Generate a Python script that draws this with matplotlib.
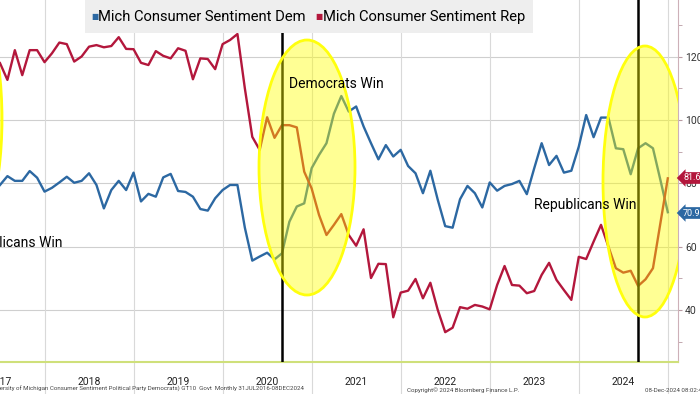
import matplotlib
matplotlib.use("Agg")
import matplotlib.pyplot as plt
from matplotlib.patches import Ellipse, Rectangle
import pandas as pd
import numpy as np

# ---- data (monthly, month-end, Jun 2017 .. Dec 2024) ----
dates = pd.date_range("2017-06-30", periods=91, freq="ME")

dem = [79.5, 82.3, 80.8, 80.8, 83.9, 81.8, 77.4, 78.6, 80.3, 82.1,
       80.2, 80.8, 83.2, 79.5, 72.1, 77.9, 80.8, 77.9, 83.4, 74.3,
       76.7, 75.8, 81.9, 83.0, 77.6, 77.3, 75.8, 71.9, 71.4, 75.3,
       77.9, 79.5, 79.5, 66.0, 55.6, 56.9, 58.1, 56.0, 57.9, 67.9,
       72.7, 73.7, 84.8, 89.0, 92.7, 102.0, 107.6, 102.7, 104.3, 98.0,
       92.7, 87.6, 92.1, 88.5, 90.6, 85.5, 83.2, 76.9, 84.0, 74.8,
       66.5, 66.0, 75.0, 79.2, 76.9, 72.4, 80.3, 77.7, 79.2, 79.8,
       80.8, 76.6, 84.8, 92.7, 85.8, 88.7, 83.4, 84.0, 91.6, 101.6,
       94.6, 100.8, 100.8, 91.1, 90.8, 82.9, 91.1, 92.7, 91.1, 81.1,
       70.9]

rep = [118.0, 112.7, 122.1, 114.2, 122.1, 122.1, 118.3, 121.1, 124.5, 124.0,
       118.5, 120.1, 123.2, 123.7, 123.0, 123.4, 126.2, 122.5, 122.4, 118.1,
       117.4, 121.8, 120.3, 119.5, 122.7, 121.9, 112.9, 119.5, 119.3, 116.1,
       124.0, 125.3, 127.2, 110.0, 94.7, 90.6, 100.9, 94.4, 98.4, 98.4,
       97.7, 83.7, 78.4, 70.0, 63.7, 66.9, 70.3, 63.7, 60.3, 65.5,
       50.1, 54.6, 54.5, 37.7, 45.5, 46.1, 49.8, 43.7, 48.6, 40.0,
       33.0, 34.4, 40.9, 40.4, 41.6, 41.1, 40.2, 47.9, 53.9, 47.9,
       47.7, 45.3, 46.0, 51.1, 54.9, 49.5, 46.3, 43.2, 56.8, 56.1,
       61.6, 66.9, 60.0, 53.2, 51.8, 52.4, 47.6, 49.7, 53.2, 67.4,
       81.6]

years = [2017, 2018, 2019, 2020, 2021, 2022, 2023, 2024]
year_labels = ["2017", "2018", "2019", "2020", "2021", "2022", "2023", "2024"]
yticks = [40, 60, 80, 100, 120]
election_marks = ["2020-08", "2024-08"]
legend_labels = ["Mich Consumer Sentiment Dem", "Mich Consumer Sentiment Rep"]

BLUE = "#2c68a2"
RED = "#b3173c"
plt.rcParams["font.family"] = ["Roboto", "DejaVu Sans"]

t = np.array([d.year + d.month / 12 for d in dates])
ev = [int(s[:4]) + int(s[5:7]) / 12 for s in election_marks]

W, H = 700, 394
fig = plt.figure(figsize=(7, 3.94), dpi=100)
ax = fig.add_axes([0, 32 / H, 678 / W, 362 / H])

x0 = t[0]
pxm = 89.04  # px per year
ax.set_xlim(x0, x0 + 678 / pxm)
ax.set_ylim(40 - 52 / 3.165, 40 + 310 / 3.165)

def px2d(x, y):
    return x0 + x / pxm, 40 + (310 - y) / 3.165

# grid
for v in yticks:
    ax.axhline(v, color="#cfcfcf", lw=0.8, zorder=0)
for y in range(2018, 2026):
    ax.axvline(y, ymin=-0.09, ymax=1, color="#d9d9d9", lw=0.8, zorder=0, clip_on=False)

ax.plot(t, dem, color=BLUE, lw=1.7, zorder=3)
ax.plot(t, rep, color=RED, lw=1.7, zorder=3)

for e in ev:
    ax.axvline(e, color="black", lw=1.8, zorder=4)

# ellipses
for (cx, cy, w, h) in [(307, 167.5, 96, 255), (645, 181.5, 84, 271), (-40, 119, 84, 271)]:
    c = px2d(cx, cy)
    ax.add_patch(Ellipse(c, w / pxm, h / 3.165, facecolor=(1, 1, 0, 0.42),
                         edgecolor=(1, 1, 0.05, 1), lw=2, zorder=5))

# annotations
ANN = 10
xa, ya = px2d(289, 84)
ax.text(xa, ya, "Democrats Win", fontsize=ANN, va="center", ha="left", zorder=6)
xa, ya = px2d(534, 205)
ax.text(xa, ya, "Republicans Win", fontsize=ANN, va="center", ha="left", zorder=6)
xa, ya = px2d(62, 243)
ax.text(xa, ya, "Republicans Win", fontsize=ANN, va="center", ha="right", zorder=6)

# axes styling
for s in ["left", "top"]:
    ax.spines[s].set_visible(False)
ax.spines["bottom"].set_color("#cfe07a")
ax.spines["bottom"].set_linewidth(1.5)
ax.spines["right"].set_color("#cdb0b8")
ax.yaxis.tick_right()
ax.set_yticks(yticks)
ax.set_yticklabels([str(v) for v in yticks])
ax.set_yticks(np.arange(30, 140, 10), minor=True)
ax.tick_params(axis="y", which="both", direction="out", length=3, color="#b89aa2",
               labelsize=7.5, labelcolor="#333333", pad=2)
ax.set_xticks([y + 0.5 for y in years])
ax.set_xticklabels(year_labels)
ax.tick_params(axis="x", length=0, labelsize=7.5, pad=11, labelcolor="#222222")

# legend box
fig.patches.append(Rectangle((85 / W, 1 - 33 / H), 448 / W, 33 / H, transform=fig.transFigure,
                             facecolor="#eeeeee", edgecolor="none", zorder=10))
LEG = 10.6
fig.text(91 / W, 1 - 17 / H, "■", color=BLUE, fontsize=5.5, va="center", ha="left", zorder=11)
fig.text(98 / W, 1 - 17 / H, legend_labels[0], fontsize=LEG, va="center", ha="left", zorder=11)
fig.text(315 / W, 1 - 17 / H, "■", color=RED, fontsize=5.5, va="center", ha="left", zorder=11)
fig.text(323 / W, 1 - 17 / H, legend_labels[1], fontsize=LEG, va="center", ha="left", zorder=11)

# last value tags
fig.text(683 / W, 1 - 178 / H, f"{rep[-1]:.1f}", color="white", fontsize=6.5, va="center", ha="left",
         zorder=12, bbox=dict(boxstyle="larrow,pad=0.15", facecolor=RED, edgecolor="none"))
fig.text(683 / W, 1 - 213 / H, f"{dem[-1]:.1f}", color="white", fontsize=6.5, va="center", ha="left",
         zorder=12, bbox=dict(boxstyle="larrow,pad=0.15", facecolor=BLUE, edgecolor="none"))

# footer
fig.text(-12 / W, 1 - 389 / H,
         "University of Michigan Consumer Sentiment Political Party Democrats) GT10  Govt  Monthly 31JUL2016-08DEC2024",
         fontsize=4.4, color="#444444", va="center", ha="left")
fig.text(407 / W, 1 - 390 / H, "Copyright© 2024 Bloomberg Finance L.P.", fontsize=4.4, color="#444444",
         va="center", ha="left")
fig.text(645 / W, 1 - 390 / H, "08-Dec-2024 08:02:40", fontsize=4.4, color="#444444", va="center", ha="left")

fig.savefig("out.png", dpi=100)
